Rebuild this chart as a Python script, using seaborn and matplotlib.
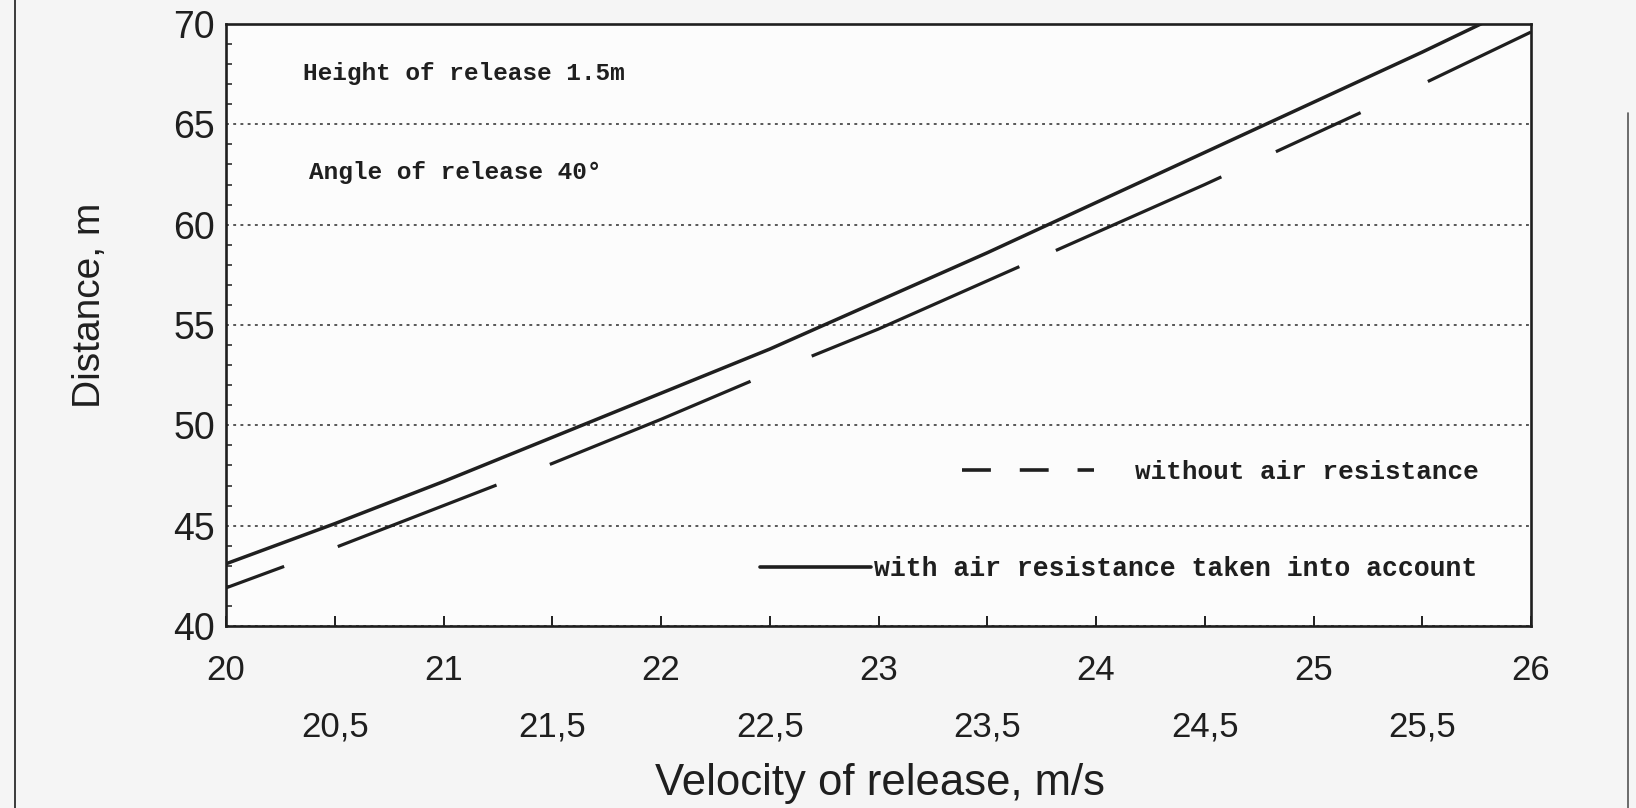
import matplotlib
matplotlib.use("Agg")
import matplotlib.pyplot as plt
import numpy as np
import pandas as pd
import seaborn as sns
from matplotlib.lines import Line2D
from matplotlib.font_manager import FontProperties
from matplotlib.ticker import FixedLocator, FixedFormatter, MultipleLocator

# ---- data ----
velocity = [20.0, 20.5, 21.0, 21.5, 22.0, 22.5, 23.0, 23.5, 24.0, 24.5, 25.0, 25.5, 26.0]
dist_without_air = [41.9, 43.9, 46.0, 48.1, 50.3, 52.6, 54.8, 57.2, 59.6, 62.0, 64.5, 67.0, 69.6]
dist_with_air = [43.1, 45.1, 47.2, 49.4, 51.6, 53.8, 56.2, 58.6, 61.1, 63.6, 66.1, 68.6, 71.2]

major_xticks = [20, 21, 22, 23, 24, 25, 26]
major_xlabels = ["20", "21", "22", "23", "24", "25", "26"]
minor_xticks = [20.5, 21.5, 22.5, 23.5, 24.5, 25.5]
minor_xlabels = ["20,5", "21,5", "22,5", "23,5", "24,5", "25,5"]
y_ticks = [40, 45, 50, 55, 60, 65, 70]
y_labels = ["40", "45", "50", "55", "60", "65", "70"]

label_without = "without air resistance"
label_with = "with air resistance taken into account"
note_height = "Height of release 1.5m"
note_angle = "Angle of release 40°"

df = pd.DataFrame({"velocity": velocity,
                   "without": dist_without_air,
                   "with": dist_with_air})

sns.set_theme(style="white")
plt.rcParams["font.family"] = ["Liberation Sans", "DejaVu Sans"]

INK = "#1f1f1f"
fig = plt.figure(figsize=(16.36, 8.08), dpi=100, facecolor="#f5f5f5")
ax = fig.add_axes([226 / 1636, 1 - 626 / 808, 1305 / 1636, 602 / 808])
ax.set_facecolor("#fcfcfc")

dash_pattern = (0, (19.4, 17.9, 53.3, 17.9, 68, 20.7, 70.8, 12.5, 56.7, 18.8, 29.2, 23.2, 60, 20))
sns.lineplot(data=df, x="velocity", y="without", ax=ax, color=INK, lw=2.3,
             linestyle=dash_pattern, solid_capstyle="butt")
sns.lineplot(data=df, x="velocity", y="with", ax=ax, color=INK, lw=2.5)

ax.set_xlim(20, 26)
ax.set_ylim(40, 70)

# grid
ax.yaxis.set_major_locator(FixedLocator(y_ticks))
ax.yaxis.set_major_formatter(FixedFormatter(y_labels))
ax.yaxis.set_minor_locator(MultipleLocator(1))
ax.yaxis.grid(True, which="major", linestyle=(0, (1.6, 2.4)), color="#4a4a4a", lw=1.3)
ax.xaxis.grid(False)

# x ticks: integers on first row, halves on second row
ax.xaxis.set_major_locator(FixedLocator(major_xticks))
ax.xaxis.set_major_formatter(FixedFormatter(major_xlabels))
ax.xaxis.set_minor_locator(FixedLocator(minor_xticks))
ax.xaxis.set_minor_formatter(FixedFormatter(minor_xlabels))

ax.tick_params(axis="x", which="both", direction="in", length=7, width=1.4,
               color=INK, labelsize=25, labelcolor=INK, bottom=True)
ax.tick_params(axis="x", which="major", pad=20.5)
ax.tick_params(axis="x", which="minor", pad=60.5)
ax.tick_params(axis="y", which="major", direction="in", length=0, pad=8,
               labelsize=27, labelcolor=INK, left=True)
ax.tick_params(axis="y", which="minor", direction="in", length=4, width=1.1,
               color=INK, left=True)

for s in ax.spines.values():
    s.set_visible(True)
    s.set_color(INK)
    s.set_linewidth(1.9)

ax.set_xlabel("Velocity of release, m/s", fontsize=31.5, color=INK)
ax.set_ylabel("Distance, m", fontsize=28, color=INK)
ax.xaxis.set_label_coords(0.501, -0.2807)
ax.xaxis.label.set_va("baseline")
ax.yaxis.set_label_coords(-0.1045, 0.533)
ax.yaxis.label.set_va("center")

mono = dict(family=["Liberation Mono", "DejaVu Sans Mono"], weight="bold")
ax.text(0.059, 0.9186, note_height, transform=ax.transAxes, fontsize=17.6,
        va="center", ha="left", color=INK, **mono)
ax.text(0.0636, 0.754, note_angle, transform=ax.transAxes, fontsize=17.6,
        va="center", ha="left", color=INK, **mono)

prop_without = FontProperties(family=["Liberation Mono", "DejaVu Sans Mono"], weight="bold", size=18.7)
prop_with = FontProperties(family=["Liberation Mono", "DejaVu Sans Mono"], weight="bold", size=19.1)

h_without = Line2D([], [], color=INK, lw=2.6, linestyle=(0, (8, 8)), solid_capstyle="butt")
leg1 = ax.legend(handles=[h_without], labels=[label_without], loc="center left",
                 bbox_to_anchor=(0.564, 0.256), frameon=False, prop=prop_without,
                 handlelength=5.1, handletextpad=1.55, borderpad=0, borderaxespad=0,
                 labelcolor=INK)
ax.add_artist(leg1)
h_with = Line2D([], [], color=INK, lw=2.6)
ax.legend(handles=[h_with], labels=[label_with], loc="center left",
          bbox_to_anchor=(0.409, 0.0947), frameon=False, prop=prop_with,
          handlelength=4.2, handletextpad=0.1, borderpad=0, borderaxespad=0,
          labelcolor=INK)

# scanned page border on the left / right
fig.add_artist(Line2D([15 / 1636, 15 / 1636], [0, 1], transform=fig.transFigure,
                      color="#3a3a3a", lw=1.4))
fig.add_artist(Line2D([1628 / 1636, 1628 / 1636], [0, 0.86], transform=fig.transFigure,
                      color="#555555", lw=1.2))

fig.savefig("out.png", dpi=100, facecolor=fig.get_facecolor())
